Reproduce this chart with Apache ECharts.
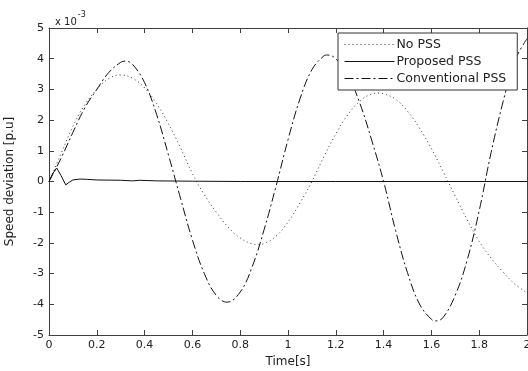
<!DOCTYPE html>
<html>
<head>
<meta charset="utf-8">
<script src="https://cdn.jsdelivr.net/npm/echarts@6/dist/echarts.min.js"></script>
<style>
  html, body { margin: 0; padding: 0; background: #fff; }
  #chart { width: 528px; height: 371px; }
</style>
</head>
<body>
<div id="chart"></div>
<script>
// Speed deviation (x 10^-3 p.u) against time in seconds, one [t, value] pair per point.
const noPss = [
  [0, 0], [0.05, 0.9], [0.1, 1.8], [0.15, 2.5], [0.2, 3.0], [0.25, 3.35], [0.3, 3.47],
  [0.35, 3.36], [0.4, 3.05], [0.45, 2.54], [0.5, 1.88], [0.55, 1.1], [0.6, 0.26],
  [0.65, -0.43], [0.7, -1.0], [0.75, -1.49], [0.8, -1.84], [0.85, -2.03], [0.875, -2.05],
  [0.9, -2.02], [0.95, -1.78], [1.0, -1.32], [1.05, -0.7], [1.1, 0.0], [1.15, 0.81],
  [1.2, 1.55], [1.25, 2.17], [1.3, 2.61], [1.35, 2.85], [1.38, 2.88], [1.4, 2.86],
  [1.45, 2.68], [1.5, 2.29], [1.55, 1.74], [1.6, 1.07], [1.65, 0.31], [1.7, -0.48],
  [1.75, -1.25], [1.8, -1.95], [1.85, -2.5], [1.9, -2.95], [1.95, -3.35], [2.0, -3.62]
];

const proposedPss = [
  [0, 0], [0.015, 0.25], [0.032, 0.44], [0.05, 0.2], [0.07, -0.11], [0.085, -0.02],
  [0.1, 0.05], [0.13, 0.08], [0.16, 0.07], [0.2, 0.05], [0.3, 0.04], [0.35, 0.02],
  [0.38, 0.04], [0.45, 0.02], [0.6, 0.01], [0.8, 0.0], [1.2, 0.0], [2.0, 0.0]
];

const conventionalPss = [
  [0, 0], [0.05, 0.75], [0.1, 1.6], [0.15, 2.4], [0.2, 3.0], [0.25, 3.55], [0.3, 3.88],
  [0.32, 3.92], [0.35, 3.81], [0.4, 3.22], [0.45, 2.19], [0.5, 0.86], [0.55, -0.54],
  [0.6, -1.9], [0.65, -3.0], [0.7, -3.71], [0.745, -3.93], [0.8, -3.6], [0.85, -2.78],
  [0.9, -1.57], [0.95, -0.15], [1.0, 1.36], [1.05, 2.69], [1.1, 3.64], [1.15, 4.09],
  [1.165, 4.12], [1.2, 4.0], [1.25, 3.47], [1.3, 2.56], [1.35, 1.35], [1.4, 0.0],
  [1.45, -1.59], [1.5, -2.97], [1.55, -3.99], [1.6, -4.49], [1.62, -4.54], [1.65, -4.42],
  [1.7, -3.7], [1.75, -2.55], [1.8, -0.95], [1.85, 0.95], [1.9, 2.6], [1.95, 3.95], [2.0, 4.65]
];

const seriesNames = ['No PSS', 'Proposed PSS', 'Conventional PSS'];
const xTickLabels = ['0', '0.2', '0.4', '0.6', '0.8', '1', '1.2', '1.4', '1.6', '1.8', '2'];
const yTickLabels = ['-5', '-4', '-3', '-2', '-1', '0', '1', '2', '3', '4', '5'];

const FONT = 'DejaVu Sans';
const AXIS_COLOR = '#404040';
const TEXT_COLOR = '#222';

const chart = echarts.init(document.getElementById('chart'), null, { renderer: 'canvas' });

const tickStyle = { inside: true, length: 5, lineStyle: { color: AXIS_COLOR, width: 1 } };
const lineStyleAxis = { show: true, onZero: false, lineStyle: { color: AXIS_COLOR, width: 1 } };

chart.setOption({
  animation: false,
  backgroundColor: '#fff',
  title: {
    left: 50, top: 6,
    text: '{a|x 10}{b|-3}',
    textStyle: {
      fontWeight: 'normal',
      rich: {
        a: { fontFamily: FONT, fontSize: 10, fontWeight: 'normal', color: TEXT_COLOR, padding: [6, 0, 0, 0] },
        b: { fontFamily: FONT, fontSize: 8, fontWeight: 'normal', color: TEXT_COLOR, verticalAlign: 'top', padding: [0, 0, 6, 1] }
      }
    }
  },
  grid: { left: 49, right: 1, top: 28, bottom: 36, containLabel: false, outerBoundsMode: 'none' },
  legend: {
    data: seriesNames,
    orient: 'vertical',
    left: 338, top: 33,
    padding: [5, 11, 5, 6],
    itemWidth: 50, itemHeight: 14, itemGap: 4,
    backgroundColor: '#fff',
    borderColor: '#333', borderWidth: 1,
    textStyle: { fontFamily: FONT, fontSize: 12.5, color: TEXT_COLOR, padding: [0, 0, 0, -3] },
    lineStyle: { width: 1 },
    itemStyle: { opacity: 0 }
  },
  xAxis: [
    {
      type: 'value', position: 'bottom', min: 0, max: 2, interval: 0.2,
      name: 'Time[s]', nameLocation: 'middle', nameGap: 20,
      nameTextStyle: { fontFamily: FONT, fontSize: 12, color: TEXT_COLOR },
      axisLine: lineStyleAxis, axisTick: tickStyle, splitLine: { show: false },
      axisLabel: {
        margin: 5, fontFamily: FONT, fontSize: 11, color: TEXT_COLOR, showMaxLabel: true,
        formatter: v => xTickLabels[Math.round(v / 0.2)]
      }
    },
    {
      type: 'value', position: 'top', min: 0, max: 2, interval: 0.2,
      axisLine: lineStyleAxis, axisTick: tickStyle, axisLabel: { show: false }, splitLine: { show: false }
    }
  ],
  yAxis: [
    {
      type: 'value', position: 'left', min: -5, max: 5, interval: 1,
      name: 'Speed deviation [p.u]', nameLocation: 'middle', nameGap: 33, nameRotate: 90,
      nameTextStyle: { fontFamily: FONT, fontSize: 12, color: TEXT_COLOR },
      axisLine: lineStyleAxis, axisTick: tickStyle, splitLine: { show: false },
      axisLabel: {
        margin: 5, fontFamily: FONT, fontSize: 11, color: TEXT_COLOR,
        formatter: v => yTickLabels[Math.round(v + 5)]
      }
    },
    {
      type: 'value', position: 'right', min: -5, max: 5, interval: 1,
      axisLine: lineStyleAxis, axisTick: tickStyle, axisLabel: { show: false }, splitLine: { show: false }
    }
  ],
  series: [
    {
      name: seriesNames[0], type: 'line', data: noPss, smooth: 0.4,
      showSymbol: false, symbol: 'none',
      lineStyle: { color: '#333', width: 1, type: [1, 3] },
      itemStyle: { color: '#333' }, z: 2
    },
    {
      name: seriesNames[1], type: 'line', data: proposedPss, smooth: false,
      showSymbol: false, symbol: 'none',
      lineStyle: { color: '#111', width: 1, type: 'solid' },
      itemStyle: { color: '#111' }, z: 4
    },
    {
      name: seriesNames[2], type: 'line', data: conventionalPss, smooth: 0.4,
      showSymbol: false, symbol: 'none',
      lineStyle: { color: '#111', width: 1, type: [9, 3, 2, 3] },
      itemStyle: { color: '#111' }, z: 3
    }
  ]
});
</script>
</body>
</html>
